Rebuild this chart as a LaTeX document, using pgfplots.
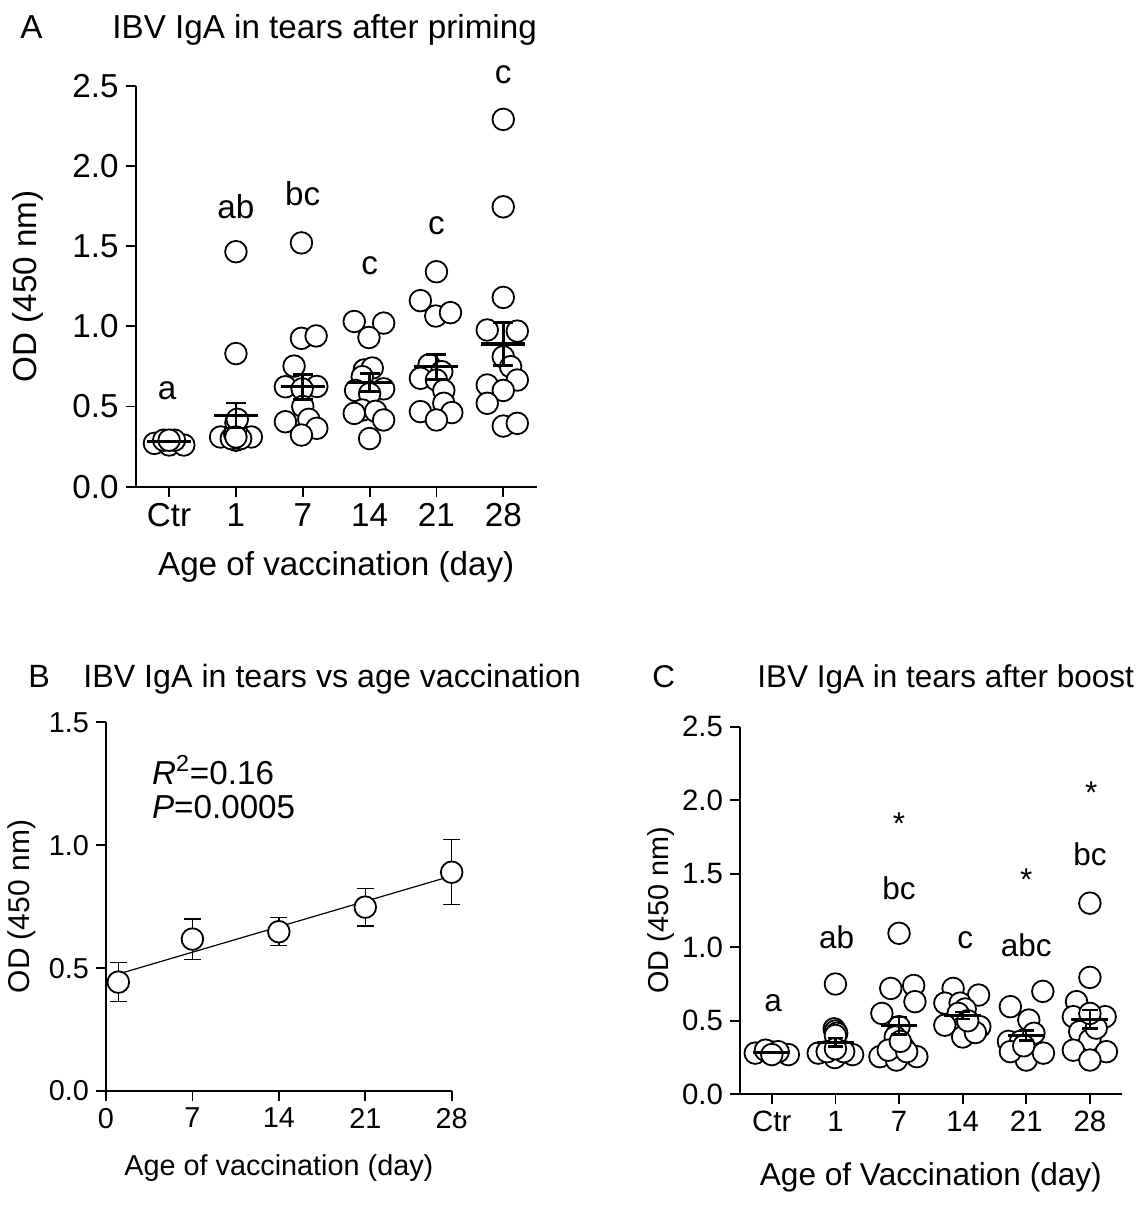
\documentclass[border=0pt]{standalone}
\usepackage{pgfplots}
\pgfplotsset{compat=1.18}
\usepackage{fontspec}
\setmainfont{Liberation Sans}
\newcommand\fs{\fontsize{16.6}{20}\selectfont}
\newcommand\fsBt{\fontsize{16.1}{19}\selectfont}
\newcommand\fsB{\fontsize{14.4}{17}\selectfont}
\newcommand\fsBy{\fontsize{15}{18}\selectfont}
\newcommand\fsCt{\fontsize{15.75}{19}\selectfont}
\newcommand\fsC{\fontsize{14.7}{17}\selectfont}
\newcommand\fsCx{\fontsize{15.8}{19}\selectfont}
\newcommand\fsCy{\fontsize{14.4}{17}\selectfont}
\pgfplotsset{
  panel/.style={
    scale only axis, clip=false, clip marker paths=true,
    axis lines*=left,
    axis line style={line width=0.9pt, -},
    every tick/.style={black, line width=0.9pt},
    tick align=outside, major tick length=5pt,
    /pgf/number format/assume math mode=true,
  },
  dots/.style={only marks, mark=*, mark size=5.4pt,
    mark options={fill=white, draw=black, line width=0.9pt}},
  onedec/.style={yticklabel style={/pgf/number format/.cd, fixed, fixed zerofill, precision=1}},
  hbar/.style={draw=none, no marks, error bars/.cd, x dir=both, x fixed=#1,
    error mark=none, error bar style={draw=black, solid}},
  vbar/.style={draw=none, no marks, error bars/.cd, y dir=both, y explicit,
    error mark=none, error bar style={draw=black, solid}},
}
\begin{document}
\begin{tikzpicture}[font=\fs]
\useasboundingbox (0,0) rectangle (569.5pt,602.5pt);
% titles
\node[anchor=base west, inner sep=0] at (10pt,583pt) {A};
\node[anchor=base west, inner sep=0] at (56pt,583pt) {IBV IgA in tears after priming};
\node[anchor=base west, inner sep=0, font=\fsBt] at (14pt,258.5pt) {B};
\node[anchor=base west, inner sep=0, font=\fsBt] at (41.5pt,258.5pt) {IBV IgA in tears vs age vaccination};
\node[anchor=base west, inner sep=0, font=\fsCt] at (326pt,258.5pt) {C};
\node[anchor=base west, inner sep=0, font=\fsCt] at (378.5pt,258.5pt) {IBV IgA in tears after boost};

% ---------------- Panel A ----------------
\begin{axis}[panel, onedec, at={(67.85pt,359.15pt)}, anchor=south west,
  width=200.5pt, height=200.5pt,
  tick label style={font=\fs}, label style={font=\fs},
  xmin=-0.5, xmax=5.5, ymin=0, ymax=2.5,
  xtick={0,1,2,3,4,5}, xticklabels={Ctr,1,7,14,21,28},
  ytick={0,0.5,1,1.5,2,2.5},
  ylabel={OD (450 nm)}, xlabel={Age of vaccination (day)},
  ylabel style={at={(axis description cs:-0.27,0.5)}, anchor=center},
  xlabel style={at={(axis description cs:0.5,-0.2)}, anchor=center}]
\addplot[dots] coordinates {
 (-0.22,0.27) (0.00,0.26) (0.22,0.26) (-0.08,0.29) (0.08,0.29) (0.00,0.29)
 (1.00,1.465) (1.00,0.83) (0.77,0.31) (1.23,0.31) (1.00,0.29) (0.93,0.30) (1.07,0.30)
 (0.98,0.33) (1.00,0.36) (1.00,0.40) (1.02,0.42) (1.00,0.31)
 (1.98,1.52) (1.98,0.925) (2.20,0.94) (1.87,0.752) (1.74,0.623) (2.21,0.625) (1.99,0.61)
 (2.00,0.50) (1.74,0.405) (2.09,0.42) (2.21,0.364) (1.98,0.322)
 (2.77,1.03) (3.21,1.02) (2.99,0.93) (2.92,0.728) (3.04,0.74) (2.89,0.686) (2.79,0.60)
 (3.21,0.61) (3.00,0.58) (2.89,0.478) (2.77,0.457) (3.09,0.47) (3.21,0.416) (3.00,0.30)
 (4.00,1.34) (3.76,1.16) (3.99,1.064) (4.21,1.085) (3.89,0.76) (4.08,0.717) (3.76,0.676)
 (4.00,0.665) (4.11,0.60) (4.11,0.52) (3.76,0.468) (4.23,0.462) (4.00,0.416)
 (5.00,2.29) (5.00,1.745) (5.00,1.18) (4.76,0.977) (5.21,0.97) (5.00,0.81) (5.11,0.748)
 (5.21,0.665) (4.76,0.634) (5.00,0.60) (4.76,0.52) (5.00,0.378) (5.21,0.395)
};
% mean lines
\addplot[hbar=0.33, error bar style={line width=1.6pt}] coordinates {
 (0,0.28) (1,0.443) (2,0.623) (3,0.648) (4,0.748) (5,0.89)};
% SEM
\addplot[vbar, error bar style={line width=1.3pt}] coordinates {
 (0,0.28) +- (0,0.008)
 (1,0.443) +- (0,0.078)
 (2,0.623) +- (0,0.078)
 (3,0.648) +- (0,0.056)
 (4,0.748) +- (0,0.078)
 (5,0.89) +- (0,0.133)};
% caps
\addplot[hbar=0.15, error bar style={line width=1.3pt}] coordinates {
 (1,0.521) (1,0.365) (2,0.701) (2,0.545) (3,0.704) (3,0.592)
 (4,0.826) (4,0.670) (5,1.023) (5,0.757)};
\node at (axis cs:-0.03,0.60) {a};
\node at (axis cs:1,1.745) {ab};
\node at (axis cs:2,1.83) {bc};
\node at (axis cs:3,1.38) {c};
\node at (axis cs:4,1.63) {c};
\node at (axis cs:5,2.57) {c};
\end{axis}

% ---------------- Panel B ----------------
\begin{axis}[panel, onedec, at={(53pt,57pt)}, anchor=south west,
  width=172.85pt, height=184.35pt,
  tick label style={font=\fsB}, xlabel style={font=\fsB}, ylabel style={font=\fsBy},
  xmin=0, xmax=28, ymin=0, ymax=1.5,
  xtick={0,7,14,21,28}, ytick={0,0.5,1,1.5},
  ylabel={OD (450 nm)}, xlabel={Age of vaccination (day)},
  ylabel style={at={(axis description cs:-0.244,0.5)}, anchor=center},
  xlabel style={at={(axis description cs:0.5,-0.209)}, anchor=center}]
\addplot[black, line width=0.6pt, no marks] coordinates {(1,0.476) (28,0.875)};
\addplot[vbar, error bar style={line width=0.7pt}] coordinates {
 (1,0.443) +- (0,0.079)
 (7,0.618) +- (0,0.082)
 (14,0.648) +- (0,0.057)
 (21,0.748) +- (0,0.077)
 (28,0.89) +- (0,0.132)};
\addplot[hbar=0.7, error bar style={line width=0.7pt}] coordinates {
 (1,0.522) (1,0.364) (7,0.700) (7,0.536) (14,0.705) (14,0.591)
 (21,0.825) (21,0.671) (28,1.022) (28,0.758)};
\addplot[dots] coordinates {
 (1,0.443) (7,0.618) (14,0.648) (21,0.748) (28,0.89)};
\node[anchor=west, inner sep=0] at (axis cs:3.7,1.306) {\textit{R}\textsuperscript{2}=0.16};
\node[anchor=west, inner sep=0] at (axis cs:3.7,1.157) {\textit{P}=0.0005};
\end{axis}

% ---------------- Panel C ----------------
\begin{axis}[panel, onedec, at={(370pt,55.35pt)}, anchor=south west,
  width=190.85pt, height=183.8pt,
  tick label style={font=\fsC}, xlabel style={font=\fsCx}, ylabel style={font=\fsCy},
  xmin=-0.5, xmax=5.5, ymin=0, ymax=2.5,
  xtick={0,1,2,3,4,5}, xticklabels={Ctr,1,7,14,21,28},
  ytick={0,0.5,1,1.5,2,2.5},
  ylabel={OD (450 nm)}, xlabel={Age of Vaccination (day)},
  ylabel style={at={(axis description cs:-0.207,0.5)}, anchor=center},
  xlabel style={at={(axis description cs:0.5,-0.225)}, anchor=center}]
\addplot[dots] coordinates {
 (-0.26,0.28) (-0.03,0.29) (0.26,0.27) (-0.10,0.30) (0.10,0.29) (0.00,0.27)
 (1.00,0.75) (0.98,0.445) (1.00,0.43) (1.02,0.415) (1.00,0.40)
 (0.73,0.28) (1.27,0.27) (0.99,0.25) (0.87,0.29) (1.13,0.29) (1.00,0.31)
 (2.00,1.095) (1.87,0.72) (2.23,0.74) (2.25,0.63) (1.73,0.55) (2.00,0.46) (1.94,0.39)
 (2.07,0.32) (1.70,0.256) (1.96,0.233) (2.28,0.256) (1.83,0.30) (2.12,0.29) (2.02,0.36)
 (2.85,0.72) (3.25,0.675) (2.72,0.62) (2.96,0.62) (3.04,0.58) (2.93,0.55) (2.72,0.47)
 (3.27,0.46) (3.00,0.39) (3.20,0.42) (3.08,0.50)
 (4.26,0.70) (3.75,0.596) (4.04,0.505) (3.72,0.36) (3.91,0.36) (4.00,0.233) (4.27,0.28)
 (3.75,0.29) (4.12,0.415) (3.96,0.33)
 (5.00,1.30) (5.00,0.795) (4.79,0.63) (5.24,0.528) (4.74,0.528) (4.84,0.426) (5.00,0.37)
 (4.74,0.30) (5.26,0.29) (5.00,0.233) (5.10,0.45) (5.00,0.55)
};
\addplot[hbar=0.29, error bar style={line width=1.5pt}] coordinates {
 (0,0.285) (1,0.354) (2,0.467) (3,0.535) (4,0.40) (5,0.51)};
\addplot[vbar, error bar style={line width=1.2pt}] coordinates {
 (0,0.285) +- (0,0.01)
 (1,0.354) +- (0,0.03)
 (2,0.467) +- (0,0.06)
 (3,0.535) +- (0,0.023)
 (4,0.40) +- (0,0.034)
 (5,0.51) +- (0,0.062)};
\addplot[hbar=0.12, error bar style={line width=1.2pt}] coordinates {
 (1,0.384) (1,0.324) (2,0.527) (2,0.407) (3,0.558) (3,0.512)
 (4,0.434) (4,0.366) (5,0.572) (5,0.448)};
\begin{scope}[font=\fsCt]
\node at (axis cs:0.02,0.62) {a};
\node at (axis cs:1.02,1.07) {ab};
\node at (axis cs:2,1.40) {bc};
\node at (axis cs:2,1.84) {*};
\node at (axis cs:3.04,1.05) {c};
\node at (axis cs:4,1.015) {abc};
\node at (axis cs:4,1.46) {*};
\node at (axis cs:5,1.63) {bc};
\node at (axis cs:5.02,2.05) {*};
\end{scope}
\end{axis}
\end{tikzpicture}
\end{document}
